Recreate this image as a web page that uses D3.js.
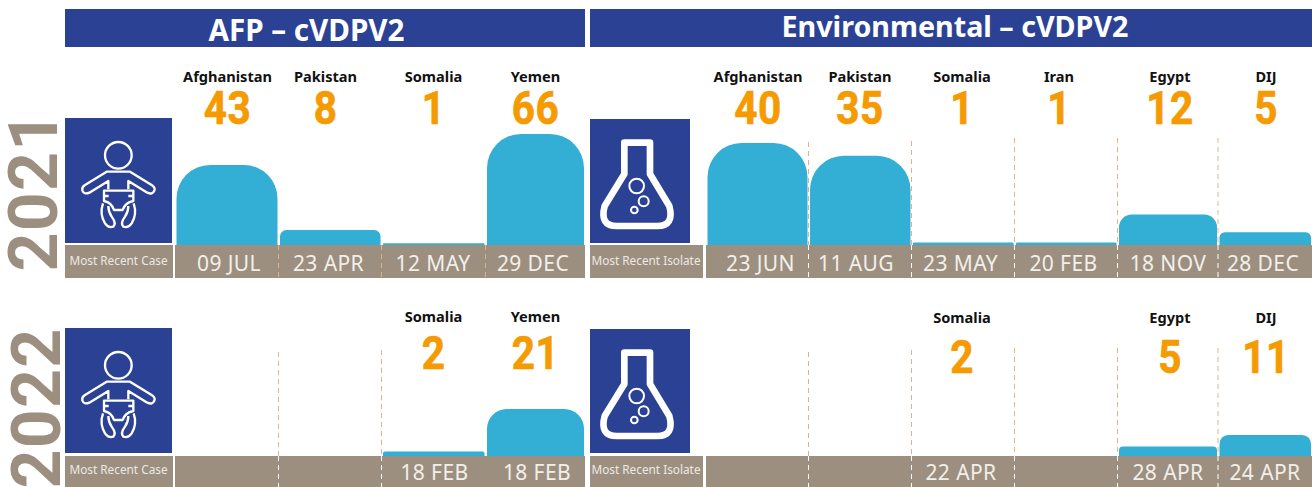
<!DOCTYPE html>
<html>
<head>
<meta charset="utf-8">
<script src="https://cdn.jsdelivr.net/npm/d3@7"></script>
<style>
  html, body { margin: 0; padding: 0; background: #fff; overflow: hidden; }
  svg { display: block; }
  text { font-family: "Noto Sans", sans-serif; }
</style>
</head>
<body>
<div id="chart"></div>
<script>
// ---- data ----
const afpCountries = ["Afghanistan", "Pakistan", "Somalia", "Yemen"];
const envCountries = ["Afghanistan", "Pakistan", "Somalia", "Iran", "Egypt", "DIJ"];

const afp2021Cases = [43, 8, 1, 66];
const afp2021Dates = ["09 JUL", "23 APR", "12 MAY", "29 DEC"];
const env2021Isolates = [40, 35, 1, 1, 12, 5];
const env2021Dates = ["23 JUN", "11 AUG", "23 MAY", "20 FEB", "18 NOV", "28 DEC"];

const afp2022Cases = [null, null, 2, 21];
const afp2022Dates = [null, null, "18 FEB", "18 FEB"];
const env2022Isolates = [null, null, 2, null, 5, 11];
const env2022Dates = [null, null, "22 APR", null, "28 APR", "24 APR"];
// the Somalia 2022 isolate has a number but the picture shows no bar
const env2022BarValues = [0, 0, 0, 0, 5, 11];

const width = 1312;
const height = 487;
const blue = "#2b4194";
const barBlue = "#33aed4";
const taupe = "#9c8f80";
const orange = "#f59a00";
const tan = "#dcb48c";

const svg = d3.select("#chart").append("svg")
  .attr("width", width)
  .attr("height", height)
  .attr("viewBox", [0, 0, width, height]);

// each panel has its own bar scale, bars are not comparable between panels
const afpEdges = d3.scaleLinear().domain([0, 1, 2, 3, 4]).range([175, 278.5, 381.5, 485.5, 585]);
const envEdges = d3.scaleLinear().domain([0, 1, 2, 3, 4, 5, 6]).range([706, 808.5, 911.5, 1014.5, 1117.5, 1218, 1312]);
const afpCentres = [227.5, 325.5, 433.5, 535.5];
const envCentres = [758, 860, 962, 1059, 1170, 1266];

const panels = [
  { countries: afpCountries, values: afp2021Cases, dates: afp2021Dates, edges: afpEdges, centres: afpCentres,
    dateCentres: [229, 328.5, 433, 533],
    h: d3.scaleLinear().domain([0, 43, 66]).range([0, 80, 111]),
    base: 245, bandBottom: 278, labelY: 82, numY: 124, dateY: 270.5,
    dashes: [], bandDash: tan, bandDashes: [1, 2, 3] },
  { countries: envCountries, values: env2021Isolates, dates: env2021Dates, edges: envEdges, centres: envCentres,
    dateCentres: [760.5, 856, 960.5, 1063.5, 1168, 1263],
    h: d3.scaleLinear().domain([0, 40]).range([0, 102]),
    base: 245, bandBottom: 278, labelY: 82, numY: 124, dateY: 270.5,
    dashes: [[1, 142], [2, 141], [3, 138], [4, 138], [5, 138]], bandDash: "#fff", bandDashes: [1, 2, 3, 4, 5] },
  { countries: afpCountries, values: afp2022Cases, dates: afp2022Dates, edges: afpEdges, centres: afpCentres,
    dateCentres: [229, 328, 434.5, 537],
    h: d3.scaleLinear().domain([0, 21]).range([0, 47]),
    base: 456, bandBottom: 487, labelY: 322, numY: 369, dateY: 480,
    dashes: [[1, 352], [2, 350]], bandDash: "#fff", bandDashes: [1, 2] },
  { countries: envCountries, values: env2022Isolates, bars: env2022BarValues, dates: env2022Dates, edges: envEdges, centres: envCentres,
    dateCentres: [760, 856, 961, 1063, 1168, 1265],
    h: d3.scaleLinear().domain([0, 11]).range([0, 21]),
    base: 456, bandBottom: 487, labelY: 323, numY: 373, dateY: 480,
    dashes: [[1, 352], [2, 350], [3, 348], [4, 348], [5, 348]], bandDash: "#fff", bandDashes: [1, 2, 3, 4, 5] }
];

// headers
const headers = [
  { text: "AFP \u2013 cVDPV2", x0: 65, x1: 585, tx: 306.5, ty: 41, size: 29.6 },
  { text: "Environmental \u2013 cVDPV2", x0: 590, x1: 1312, tx: 955, ty: 37, size: 28.7 }
];
svg.selectAll("rect.header").data(headers).join("rect")
  .attr("class", "header")
  .attr("x", d => d.x0).attr("y", 9)
  .attr("width", d => d.x1 - d.x0).attr("height", 38)
  .attr("fill", blue);
svg.selectAll("text.header").data(headers).join("text")
  .attr("class", "header")
  .attr("x", d => d.tx).attr("y", d => d.ty)
  .attr("text-anchor", "middle")
  .attr("font-size", d => d.size).attr("font-weight", 700)
  .attr("fill", "#fff")
  .text(d => d.text);

// years
const years = [
  { text: "2021", x: 57, y: 191 },
  { text: "2022", x: 60, y: 408 }
];
svg.selectAll("text.year").data(years).join("text")
  .attr("class", "year")
  .attr("transform", d => `translate(${d.x},${d.y}) rotate(-90)`)
  .attr("text-anchor", "middle")
  .style("font-family", "Roboto, sans-serif")
  .attr("font-size", 68).attr("font-weight", 700)
  .attr("letter-spacing", 1.2)
  .attr("fill", taupe)
  .text(d => d.text);

// row furniture, icons and captions
const babyPaths = [
  "M325,568 L325,543 L268,578 Q252,585 247,571 Q245,561 255,555 L320,515 L390,515 L455,555 Q467,563 463,572 Q458,585 442,578 L385,543 L385,568",
  "M312,572 L400,572 L400,603 Q375,608 368,630 L342,630 Q335,608 312,603 Z",
  "M312,588 L326,588 M385,588 L400,588",
  "M309,610 Q298,642 315,670 Q325,685 340,680 Q350,670 335,650 Q325,635 325,618",
  "M401,610 Q412,642 395,670 Q385,685 370,680 Q360,670 375,650 Q385,635 385,618"
];
const flaskPath = "M133,428 L210,428 L210,522 L268,618 Q284,678 232,678 L110,678 Q58,678 74,618 L133,522 Z";
const bubbles = [[170, 558, 22], [191, 604, 15], [163, 630, 10]];

function drawBaby(dy) {
  svg.append("rect").attr("x", 65).attr("y", 118 + dy).attr("width", 107).attr("height", 125).attr("fill", blue);
  const g = svg.append("g")
    .attr("transform", `translate(0,${dy}) scale(${1 / 3})`)
    .attr("fill", "none").attr("stroke", "#fff").attr("stroke-width", 7).attr("stroke-linejoin", "round");
  g.append("circle").attr("cx", 355).attr("cy", 466).attr("r", 40);
  g.selectAll("path").data(babyPaths).join("path").attr("d", d => d);
}

function drawFlask(dy) {
  svg.append("rect").attr("x", 590).attr("y", 119 + dy).attr("width", 100).attr("height", 124).attr("fill", blue);
  const g = svg.append("g")
    .attr("transform", `translate(580,${dy}) scale(${1 / 3})`)
    .attr("fill", "none").attr("stroke", "#fff").attr("stroke-linejoin", "round");
  g.append("path").attr("d", flaskPath).attr("stroke-width", 20);
  g.selectAll("circle").data(bubbles).join("circle")
    .attr("cx", d => d[0]).attr("cy", d => d[1]).attr("r", d => d[2])
    .attr("stroke-width", 6);
}

drawBaby(0);
drawBaby(210);
drawFlask(0);
drawFlask(210);

const captions = [
  { text: "Most Recent Case", x0: 65, x1: 173, y0: 245, y1: 278, ty: 264.5 },
  { text: "Most Recent Isolate", x0: 590, x1: 703, y0: 245, y1: 278, ty: 264.5 },
  { text: "Most Recent Case", x0: 65, x1: 173, y0: 456, y1: 487, ty: 474 },
  { text: "Most Recent Isolate", x0: 590, x1: 703, y0: 456, y1: 487, ty: 474 }
];
svg.selectAll("rect.caption").data(captions).join("rect")
  .attr("class", "caption")
  .attr("x", d => d.x0).attr("y", d => d.y0)
  .attr("width", d => d.x1 - d.x0).attr("height", d => d.y1 - d.y0)
  .attr("fill", taupe);
svg.selectAll("text.caption").data(captions).join("text")
  .attr("class", "caption")
  .attr("x", d => (d.x0 + d.x1) / 2 - 0.5)
  .attr("y", d => d.ty)
  .attr("text-anchor", "middle")
  .attr("font-size", 11.8)
  .attr("fill", "#ece8e2")
  .text(d => d.text);

// flat bottom, rounded top, radius grows with the bar height up to a limit
function barPath(x0, x1, top, base) {
  const r = Math.min(34, (base - top) * 0.42);
  const p = d3.path();
  p.moveTo(x0, base);
  p.lineTo(x0, top + r);
  p.arcTo(x0, top, x0 + r, top, r);
  p.lineTo(x1 - r, top);
  p.arcTo(x1, top, x1, top + r, r);
  p.lineTo(x1, base);
  p.closePath();
  return p.toString();
}

panels.forEach(panel => {
  const g = svg.append("g");
  const idx = d3.range(panel.countries.length);
  const barVals = panel.bars || panel.values;

  g.append("rect")
    .attr("x", panel.edges(0)).attr("y", panel.base)
    .attr("width", panel.edges(idx.length) - panel.edges(0))
    .attr("height", panel.bandBottom - panel.base)
    .attr("fill", taupe);

  g.selectAll("path.bar").data(idx.filter(i => barVals[i] > 0)).join("path")
    .attr("class", "bar")
    .attr("d", i => barPath(panel.edges(i) + 1.5, panel.edges(i + 1) - 1, panel.base - panel.h(barVals[i]), panel.base))
    .attr("fill", barBlue);

  g.selectAll("line.guide").data(panel.dashes).join("line")
    .attr("class", "guide")
    .attr("x1", d => panel.edges(d[0])).attr("x2", d => panel.edges(d[0]))
    .attr("y1", d => d[1]).attr("y2", panel.base)
    .attr("stroke", tan).attr("stroke-width", 1).attr("stroke-dasharray", "5 4");

  g.selectAll("line.bandDash").data(panel.bandDashes).join("line")
    .attr("class", "bandDash")
    .attr("x1", d => panel.edges(d)).attr("x2", d => panel.edges(d))
    .attr("y1", panel.base).attr("y2", panel.bandBottom)
    .attr("stroke", panel.bandDash).attr("stroke-width", 1).attr("stroke-dasharray", "5 4");

  const shown = idx.filter(i => panel.values[i] !== null);
  g.selectAll("text.country").data(shown).join("text")
    .attr("class", "country")
    .attr("x", i => panel.centres[i]).attr("y", panel.labelY)
    .attr("text-anchor", "middle")
    .attr("font-size", 14.6).attr("font-weight", 700)
    .attr("fill", "#111")
    .text(i => panel.countries[i]);

  // Roboto squeezed a little, the picture's numerals are narrower and heavier
  g.selectAll("text.num").data(shown).join("text")
    .attr("class", "num")
    .attr("transform", i => `translate(${panel.centres[i]},${panel.numY}) scale(0.88,1)`)
    .attr("text-anchor", "middle")
    .style("font-family", "Roboto, sans-serif")
    .attr("font-size", 46).attr("font-weight", 700)
    .attr("letter-spacing", 0.5)
    .attr("fill", orange)
    .attr("stroke", orange).attr("stroke-width", 0.7)
    .text(i => panel.values[i]);

  g.selectAll("text.date").data(shown).join("text")
    .attr("class", "date")
    .attr("x", i => panel.dateCentres[i]).attr("y", panel.dateY)
    .attr("text-anchor", "middle")
    .attr("font-size", 21)
    .attr("letter-spacing", 0.4)
    .attr("fill", "#f2efea")
    .text(i => panel.dates[i]);
});
</script>
</body>
</html>
